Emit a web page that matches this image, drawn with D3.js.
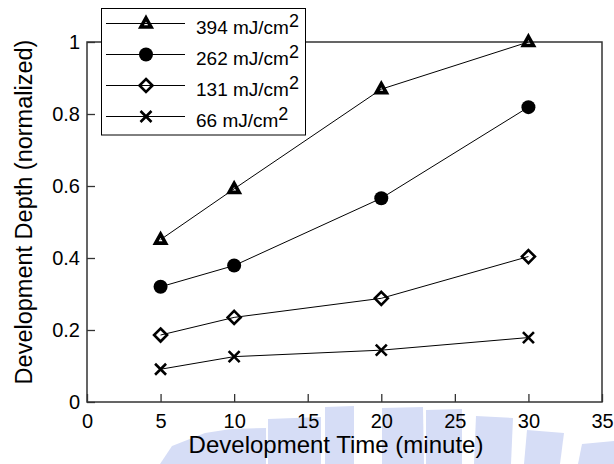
<!DOCTYPE html>
<html>
<head>
<meta charset="utf-8">
<script src="https://cdn.jsdelivr.net/npm/d3@7"></script>
<style>
  html, body { margin: 0; padding: 0; background: #fff; }
  svg { display: block; font-family: Arial, "Liberation Sans", Helvetica, sans-serif; }
</style>
</head>
<body>
<svg id="chart" width="614" height="464"></svg>
<script>
// ---- data ----
const times = [5, 10, 20, 30];
const seriesNames = ["394", "262", "131", "66"];
const depth394 = [0.451, 0.592, 0.869, 1.0];
const depth262 = [0.320, 0.379, 0.566, 0.819];
const depth131 = [0.186, 0.235, 0.288, 0.404];
const depth66  = [0.091, 0.126, 0.144, 0.179];
const xTicks = [0, 5, 10, 15, 20, 25, 30, 35];
const yTicks = [0, 0.2, 0.4, 0.6, 0.8, 1];
const xTitle = "Development Time (minute)";
const yTitle = "Development Depth (normalized)";
const unitText = " mJ/cm";
const unitSup = "2";

// background watermark blocks (decoration, not data)
const wmBlocks = [
  [[160,464],[172,446],[205,433],[231,429],[266,428],[266,464]],
  [[268,419],[321,417],[321,464],[268,464]],
  [[325,407],[354,406],[354,464],[325,464]],
  [[382,408],[423,407],[424,464],[382,464]],
  [[426,410],[462,409],[462,464],[426,464]],
  [[476,416],[513,418],[511,464],[474,464]],
  [[527,430],[564,433],[560,464],[524,464]],
  [[582,444],[614,441],[614,464],[578,464]]
];

const series = [
  {name: seriesNames[0], values: depth394, shape: "triangle"},
  {name: seriesNames[1], values: depth262, shape: "circle"},
  {name: seriesNames[2], values: depth131, shape: "diamond"},
  {name: seriesNames[3], values: depth66,  shape: "cross"}
];

const svg = d3.select("#chart");
const pLeft = 87, pRight = 602, pTop = 42, pBottom = 402;

const x = d3.scaleLinear().domain([0, 35]).range([pLeft, pRight]);
const y = d3.scaleLinear().domain([0, 1]).range([pBottom, pTop]);

// watermark
svg.append("g").selectAll("path").data(wmBlocks).join("path")
  .attr("d", d => "M" + d.map(p => p.join(",")).join("L") + "Z")
  .attr("fill", "#d6ddf6");

// frame
svg.append("rect")
  .attr("x", pLeft).attr("y", pTop)
  .attr("width", pRight - pLeft).attr("height", pBottom - pTop)
  .attr("fill", "none").attr("stroke", "#333").attr("stroke-width", 1.5);

// axes
const xAxis = svg.append("g").attr("transform", `translate(0,${pBottom})`)
  .call(d3.axisBottom(x).tickValues(xTicks).tickFormat(d3.format("d"))
    .tickSizeInner(-8).tickSizeOuter(0).tickPadding(12));
xAxis.select(".domain").remove();
xAxis.selectAll("line").attr("stroke", "#333").attr("stroke-width", 1.3);
xAxis.selectAll("text").attr("font-size", 20).attr("fill", "#000")
  .attr("font-family", "Arial, 'Liberation Sans', sans-serif");

const yAxis = svg.append("g").attr("transform", `translate(${pLeft},0)`)
  .call(d3.axisLeft(y).tickValues(yTicks).tickFormat(d => d === 0 || d === 1 ? d3.format("d")(d) : d3.format(".1f")(d))
    .tickSizeInner(-8).tickSizeOuter(0).tickPadding(7));
yAxis.select(".domain").remove();
yAxis.selectAll("line").attr("stroke", "#333").attr("stroke-width", 1.3);
yAxis.selectAll("text").attr("font-size", 20).attr("fill", "#000")
  .attr("font-family", "Arial, 'Liberation Sans', sans-serif");

// titles
svg.append("text")
  .attr("x", 336).attr("y", 453)
  .attr("text-anchor", "middle").attr("font-size", 24).attr("fill", "#000")
  .text(xTitle);
svg.append("text")
  .attr("transform", "translate(32,212) rotate(-90)")
  .attr("text-anchor", "middle").attr("font-size", 23.5).attr("fill", "#000")
  .text(yTitle);

// marker paths
function markerPath(shape) {
  switch (shape) {
    case "triangle": return "M0,-5.5L5,3.5L-5,3.5Z";
    case "diamond": return "M0,-6.5L6.5,0L0,6.5L-6.5,0Z";
    case "cross": return "M-5.5,-5.5L5.5,5.5M5.5,-5.5L-5.5,5.5";
    default: return null;
  }
}
function drawMarker(g, shape) {
  if (shape === "circle") {
    g.append("circle").attr("r", 7).attr("fill", "#000");
  } else {
    g.append("path").attr("d", markerPath(shape))
      .attr("fill", "none").attr("stroke", "#000")
      .attr("stroke-width", shape === "triangle" ? 3.6 : 2.6)
      .attr("stroke-linejoin", "miter");
  }
}

const line = d3.line().x(d => x(d[0])).y(d => y(d[1]));

series.forEach(s => {
  const pts = times.map((t, i) => [t, s.values[i]]);
  svg.append("path").datum(pts)
    .attr("d", line).attr("fill", "none")
    .attr("stroke", "#000").attr("stroke-width", 1);
  pts.forEach(p => {
    const g = svg.append("g").attr("transform", `translate(${x(p[0])},${y(p[1])})`);
    drawMarker(g, s.shape);
  });
});

// legend
const legend = svg.append("g");
legend.append("rect")
  .attr("x", 101.5).attr("y", 8.5).attr("width", 204).attr("height", 126.5)
  .attr("fill", "#fff").attr("stroke", "#000").attr("stroke-width", 1);
series.forEach((s, i) => {
  const ry = 23.5 + i * 31;
  legend.append("line").attr("x1", 106).attr("x2", 185)
    .attr("y1", ry).attr("y2", ry).attr("stroke", "#000").attr("stroke-width", 1);
  const g = legend.append("g").attr("transform", `translate(146,${ry})`);
  drawMarker(g, s.shape);
  const t = legend.append("text").attr("x", 196).attr("y", ry + 10)
    .attr("font-size", 19).attr("fill", "#000");
  t.append("tspan").text(s.name + unitText);
  t.append("tspan").attr("dy", -7).attr("font-size", 18).text(unitSup);
});
</script>
</body>
</html>
